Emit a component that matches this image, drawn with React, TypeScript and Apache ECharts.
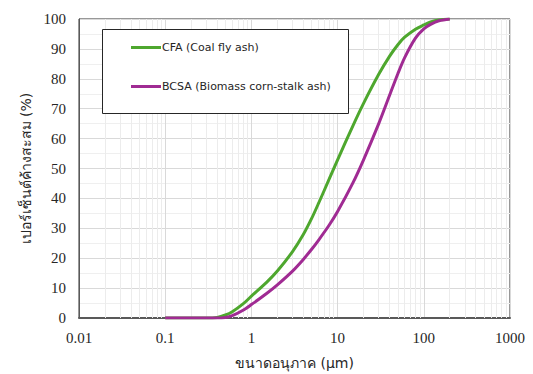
import React, { useEffect, useRef } from "react";
import * as echarts from "echarts";

const sizes = [0.1, 0.2, 0.3, 0.4, 0.5, 0.6, 0.8, 1, 1.5, 2, 3, 4, 5, 6, 8, 10, 15, 20, 30, 40, 50, 60, 80, 100, 120, 150, 200];
const cfa = [0, 0, 0, 0.2, 1.0, 2.1, 4.7, 7.3, 11.9, 15.7, 22.2, 27.9, 33.3, 38.3, 46.5, 52.9, 64.2, 71.8, 81.5, 87.5, 91.4, 93.9, 96.6, 98.0, 99.0, 99.7, 100];
const bcsa = [0, 0, 0, 0, 0.2, 0.8, 2.6, 4.5, 8.2, 11.1, 15.7, 19.6, 23.0, 26.0, 31.1, 35.6, 45.1, 52.9, 65.0, 74.4, 81.7, 87.1, 93.6, 96.7, 98.2, 99.4, 100];
const minorX = [2, 3, 4, 5, 6, 7, 8, 9];
const decades = [0.01, 0.1, 1, 10, 100];
const seriesNames = ["CFA (Coal fly ash)", "BCSA (Biomass corn-stalk ash)"];
const xName = "ขนาดอนุภาค (μm)";
const yName = "เปอร์เซ็นต์ค้างสะสม (%)";

const serif = "'Liberation Serif', 'DejaVu Serif', serif";
const sans = "Tahoma, 'DejaVu Sans', 'Noto Sans', sans-serif";

export default function App() {
  const ref = useRef<HTMLDivElement>(null);
  useEffect(() => {
    if (!ref.current) return;
    const chart = echarts.init(ref.current, null, { renderer: "svg" });
    const minorLines: any[] = [];
    decades.forEach((d) => minorX.forEach((m) => minorLines.push({ xAxis: +(d * m).toPrecision(6) })));
    chart.setOption({
      animation: false,
      backgroundColor: "#ffffff",
      grid: {
        left: 79,
        right: 23,
        top: 19,
        bottom: 56,
        containLabel: false,
        outerBoundsMode: "none",
        show: true,
        borderColor: "#303030",
        borderWidth: 1,
      },
      xAxis: {
        type: "log",
        logBase: 10,
        min: 0.01,
        max: 1000,
        name: xName,
        nameLocation: "middle",
        nameGap: 38,
        nameTextStyle: { fontFamily: sans, fontSize: 14, color: "#262626" },
        axisLine: { show: true, lineStyle: { color: "#595959", width: 2 } },
        axisTick: { show: false },
        axisLabel: {
          fontFamily: serif,
          fontSize: 15,
          color: "#262626",
          margin: 12,
          formatter: (v: number) => String(+v.toPrecision(6)),
        },
        splitLine: { show: true, lineStyle: { color: "#d9d9d9", width: 1 } },
      },
      yAxis: {
        type: "value",
        min: 0,
        max: 100,
        interval: 10,
        name: yName,
        nameLocation: "middle",
        nameGap: 46,
        nameTextStyle: { fontFamily: sans, fontSize: 14, color: "#262626" },
        axisLine: { show: true, lineStyle: { color: "#595959", width: 1 } },
        axisTick: { show: false },
        axisLabel: { fontFamily: serif, fontSize: 15, color: "#262626", margin: 13 },
        splitLine: { show: true, lineStyle: { color: "#d9d9d9", width: 1 } },
        minorTick: { show: false, splitNumber: 2 },
        minorSplitLine: { show: true, lineStyle: { color: "#efefef", width: 1 } },
      },
      legend: {
        orient: "vertical",
        left: 131,
        top: 42,
        itemGap: 28,
        itemWidth: 30,
        itemHeight: 3,
        icon: "rect",
        padding: 0,
        textStyle: { fontFamily: sans, fontSize: 11, color: "#262626", padding: [0, 0, 0, -4] },
        data: seriesNames,
      },
      graphic: [
        {
          type: "rect",
          left: 102,
          top: 29,
          shape: { width: 246, height: 84 },
          style: { fill: "#ffffff", stroke: "#262626", lineWidth: 1 },
          z: 2,
          zlevel: 0,
        },
      ],
      series: [
        {
          name: seriesNames[0],
          type: "line",
          data: sizes.map((s, i) => [s, cfa[i]]),
          smooth: 0.3,
          showSymbol: false,
          symbol: "none",
          lineStyle: { color: "#4EA72E", width: 3 },
          itemStyle: { color: "#4EA72E" },
          z: 3,
          markLine: {
            silent: true,
            symbol: "none",
            label: { show: false },
            lineStyle: { color: "#ececec", width: 1, type: "solid" },
            data: minorLines,
            z: 1,
          },
        },
        {
          name: seriesNames[1],
          type: "line",
          data: sizes.map((s, i) => [s, bcsa[i]]),
          smooth: 0.3,
          showSymbol: false,
          symbol: "none",
          lineStyle: { color: "#A02B93", width: 3 },
          itemStyle: { color: "#A02B93" },
          z: 4,
        },
      ],
    });
    return () => chart.dispose();
  }, []);
  return (
    <div
      ref={ref}
      style={{ position: "fixed", left: 0, top: 0, width: 533, height: 374 }}
    />
  );
}
